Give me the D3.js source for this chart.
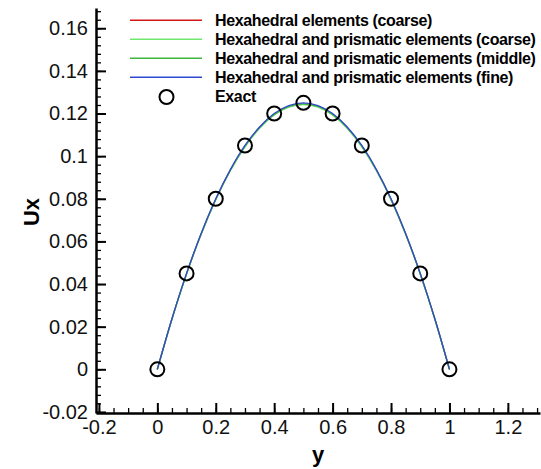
<!DOCTYPE html>
<html>
<head>
<meta charset="utf-8">
<script src="https://cdn.jsdelivr.net/npm/d3@7"></script>
<style>
  body { margin: 0; background: #fff; }
  text { font-family: "Liberation Sans", Arial, sans-serif; }
</style>
</head>
<body>
<svg id="chart" width="541" height="469"></svg>
<script>
// y positions across the channel
const yPos = [0, 0.05, 0.1, 0.15, 0.2, 0.25, 0.3, 0.35, 0.4, 0.45, 0.5,
              0.55, 0.6, 0.65, 0.7, 0.75, 0.8, 0.85, 0.9, 0.95, 1];

// Ux values for each mesh
const hexCoarse   = [0, 0.0236, 0.0448, 0.0635, 0.0797, 0.0934, 0.1046, 0.1133, 0.1195, 0.1232, 0.1244,
                     0.1232, 0.1195, 0.1133, 0.1046, 0.0934, 0.0797, 0.0635, 0.0448, 0.0236, 0];
const prismCoarse = [0, 0.0235, 0.0447, 0.0634, 0.0796, 0.0932, 0.1044, 0.1131, 0.1193, 0.1230, 0.1242,
                     0.1230, 0.1193, 0.1131, 0.1044, 0.0932, 0.0796, 0.0634, 0.0447, 0.0235, 0];
const prismMiddle = [0, 0.0236, 0.0448, 0.0636, 0.0798, 0.0935, 0.1047, 0.1134, 0.1196, 0.1233, 0.1245,
                     0.1233, 0.1196, 0.1134, 0.1047, 0.0935, 0.0798, 0.0636, 0.0448, 0.0236, 0];
const prismFine   = [0, 0.0237, 0.0450, 0.0637, 0.0800, 0.0937, 0.1050, 0.1137, 0.1200, 0.1237, 0.1250,
                     0.1237, 0.1200, 0.1137, 0.1050, 0.0937, 0.0800, 0.0637, 0.0450, 0.0237, 0];

// exact solution
const exactY  = [0, 0.1, 0.2, 0.3, 0.4, 0.5, 0.6, 0.7, 0.8, 0.9, 1];
const exactUx = [0, 0.045, 0.08, 0.105, 0.12, 0.125, 0.12, 0.105, 0.08, 0.045, 0];

const xTicks = [-0.2, 0, 0.2, 0.4, 0.6, 0.8, 1, 1.2];
const yTicks = [-0.02, 0, 0.02, 0.04, 0.06, 0.08, 0.1, 0.12, 0.14, 0.16];

const seriesNames  = ["Hexahedral elements (coarse)",
                      "Hexahedral and prismatic elements (coarse)",
                      "Hexahedral and prismatic elements (middle)",
                      "Hexahedral and prismatic elements (fine)"];
const seriesColors = ["#d01818", "#70e870", "#3cb83c", "#3048d0"];
const seriesData   = [hexCoarse, prismCoarse, prismMiddle, prismFine];

const svg = d3.select("#chart"),
      x   = d3.scaleLinear().domain([-0.21, 1.31]).range([96, 540]),
      y   = d3.scaleLinear().domain([-0.0205, 0.1695]).range([413, 8]),
      fmt = d => String(+d.toFixed(2));

// minor ticks
svg.append("g")
    .attr("transform", "translate(0,413)")
    .call(d3.axisBottom(x).tickValues(d3.range(-0.2, 1.31, 0.05)).tickSize(-5).tickFormat(""))
    .call(g => g.select(".domain").remove())
    .call(g => g.selectAll("line").attr("stroke-width", 1.3));

svg.append("g")
    .attr("transform", "translate(96,0)")
    .call(d3.axisLeft(y).tickValues(d3.range(-0.02, 0.169, 0.004)).tickSize(-5).tickFormat(""))
    .call(g => g.select(".domain").remove())
    .call(g => g.selectAll("line").attr("stroke-width", 1.3));

// major axes
const xAxis = svg.append("g")
    .attr("transform", "translate(0,413)")
    .call(d3.axisBottom(x).tickValues(xTicks).tickFormat(fmt).tickSize(-10).tickSizeOuter(0).tickPadding(7));

const yAxis = svg.append("g")
    .attr("transform", "translate(96,0)")
    .call(d3.axisLeft(y).tickValues(yTicks).tickFormat(fmt).tickSize(-10).tickSizeOuter(0).tickPadding(8));

[xAxis, yAxis].forEach(a => {
  a.select(".domain").attr("stroke-width", 2.5);
  a.selectAll("line").attr("stroke-width", 2);
  a.selectAll("text").style("font-size", "20px").attr("fill", "#111");
});

// curves
const line = d3.line()
    .x((d, i) => x(yPos[i]))
    .y(d => y(d))
    .curve(d3.curveMonotoneX);

seriesData.forEach((s, k) => {
  svg.append("path")
      .datum(s)
      .attr("fill", "none")
      .attr("stroke", seriesColors[k])
      .attr("stroke-width", 1.3)
      .attr("d", line);
});

// exact points
svg.selectAll(".exact")
  .data(exactY)
  .enter().append("circle")
    .attr("class", "exact")
    .attr("cx", d => x(d))
    .attr("cy", (d, i) => y(exactUx[i]))
    .attr("r", 7)
    .attr("fill", "none")
    .attr("stroke", "#000")
    .attr("stroke-width", 2);

//add legend
seriesNames.forEach((n, k) => {
  const ly = 20.3 + k * 19;
  svg.append("line")
      .attr("x1", 130).attr("x2", 202)
      .attr("y1", ly).attr("y2", ly)
      .attr("stroke", seriesColors[k])
      .attr("stroke-width", 1.5);
  svg.append("text")
      .attr("x", 215).attr("y", ly)
      .attr("dy", "0.35em")
      .style("font-size", "16px")
      .style("letter-spacing", "-0.35px")
      .style("font-weight", "bold")
      .text(n);
});

svg.append("circle")
    .attr("cx", 166.5).attr("cy", 97)
    .attr("r", 7)
    .attr("fill", "none")
    .attr("stroke", "#000")
    .attr("stroke-width", 2);

svg.append("text")
    .attr("x", 215).attr("y", 96.3)
    .attr("dy", "0.35em")
    .style("font-size", "16px")
    .style("letter-spacing", "-0.35px")
    .style("font-weight", "bold")
    .text("Exact");

//axis titles
svg.append("text")
    .attr("transform", "translate(39,212) rotate(-90)")
    .attr("text-anchor", "middle")
    .style("font-size", "22px")
    .style("font-weight", "bold")
    .text("Ux");

svg.append("text")
    .attr("x", 318).attr("y", 462)
    .attr("text-anchor", "middle")
    .style("font-size", "22px")
    .style("font-weight", "bold")
    .text("y");
</script>
</body>
</html>
